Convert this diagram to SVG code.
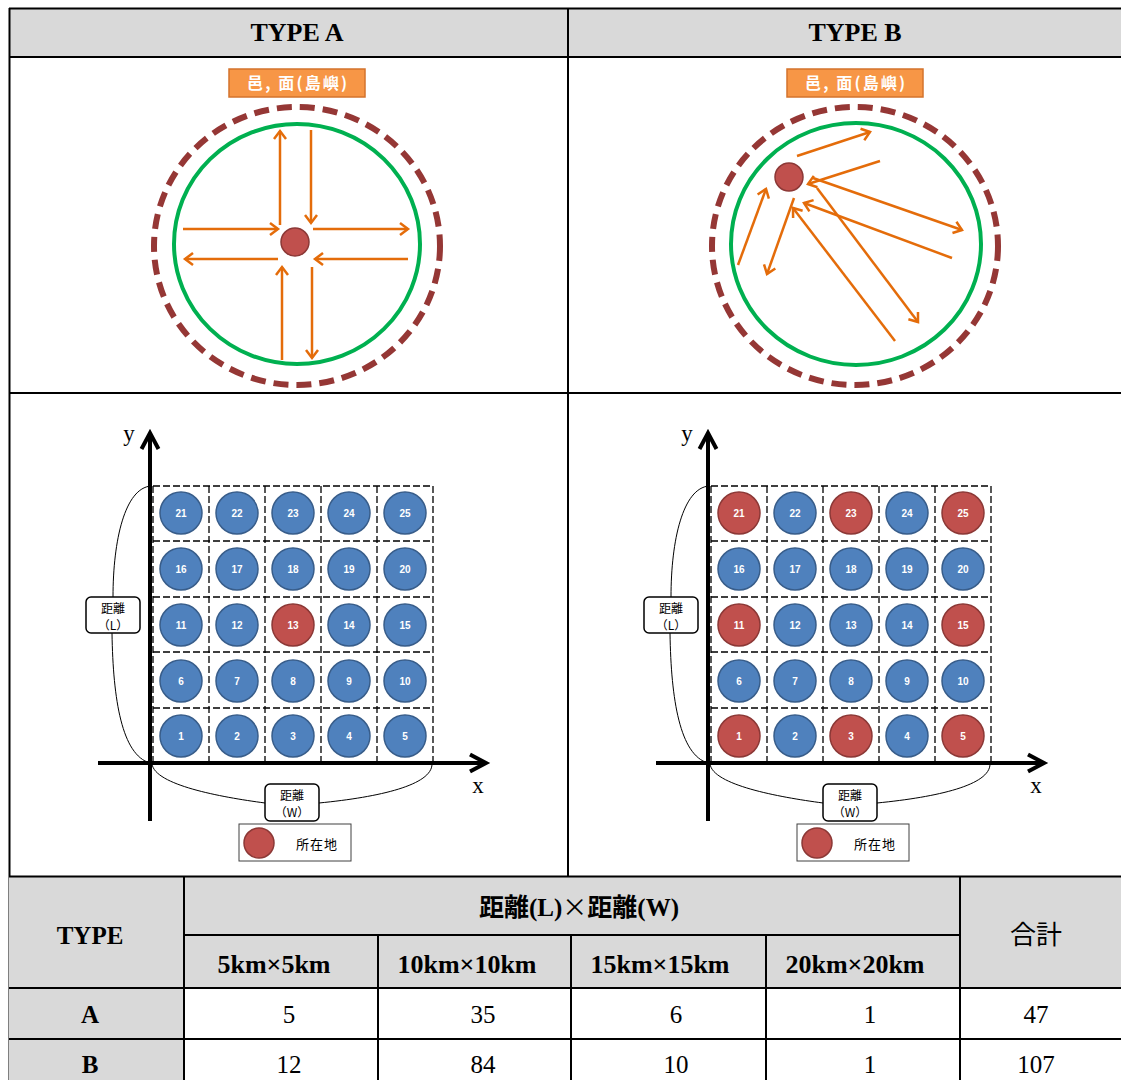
<svg xmlns="http://www.w3.org/2000/svg" width="1121" height="1080" viewBox="0 0 1121 1080">
<defs>
<style>
.hdr{fill:#d9d9d9}
.ln{stroke:#000;stroke-width:2;fill:none}
.tserif{font-family:"Liberation Serif","Times New Roman",serif;fill:#000;text-anchor:middle}
.b{font-weight:bold}
.cjk{font-family:"Liberation Serif","Noto Sans CJK KR",serif;text-anchor:middle;fill:#000}
.lbl{fill:#f79646;stroke:#d4732c;stroke-width:1.5}
.lbltxt{font-family:"Noto Sans CJK KR","Noto Sans",sans-serif;font-size:16px;font-weight:bold;fill:#fff;text-anchor:middle}
.green{fill:none;stroke:#00b050;stroke-width:4}
.dash{fill:none;stroke:#953735;stroke-width:6;stroke-dasharray:15 8}
.dot{fill:#c0504d;stroke:#8c3836;stroke-width:1.5}
.arr{stroke:#e46c0a;stroke-width:2.5;fill:none;marker-end:url(#ah)}
.grid{stroke:#000;stroke-width:1.3;stroke-dasharray:7 3;fill:none}
.axis{stroke:#000;stroke-width:4;fill:none;stroke-linejoin:miter}
.blue{fill:#4f81bd;stroke:#385d8a;stroke-width:1.5}
.red{fill:#c0504d;stroke:#8c3836;stroke-width:1.5}
.num{font-family:"Liberation Sans",Arial,sans-serif;font-size:10px;font-weight:bold;fill:#fff;text-anchor:middle}
.curve{stroke:#000;stroke-width:1;fill:none}
.box{fill:#fff;stroke:#000;stroke-width:1.5}
.small{font-family:"Noto Sans CJK KR","Noto Sans",sans-serif;font-size:12px;fill:#000;text-anchor:middle}
.legt{font-family:"Noto Sans CJK KR","Noto Sans",sans-serif;font-size:13px;fill:#000;text-anchor:middle;letter-spacing:1px}
.leg{fill:#fff;stroke:#404040;stroke-width:1}
.axlab{font-family:"Liberation Serif","Times New Roman",serif;font-size:23px;fill:#000;text-anchor:middle}
</style>
<marker id="ah" markerUnits="userSpaceOnUse" markerWidth="20" markerHeight="20" refX="10" refY="10" orient="auto" overflow="visible">
<path d="M2,4 L10,10 L2,16" fill="none" stroke="#e46c0a" stroke-width="2.5"/>
</marker>
</defs>

<rect width="1121" height="1080" fill="#fff"/>

<g id="frame">
<rect class="hdr" x="9" y="8" width="1112" height="49"/>
<line class="ln" x1="9" y1="8.5" x2="1121" y2="8.5" stroke-width="3"/>
<line class="ln" x1="9" y1="57" x2="1121" y2="57" stroke-width="2.5"/>
<line class="ln" x1="9.5" y1="8" x2="9.5" y2="1080" stroke-width="2.5"/>
<line class="ln" x1="568" y1="8" x2="568" y2="876"/>
<line class="ln" x1="9" y1="393" x2="1121" y2="393"/>
<text class="tserif b" x="297" y="41" font-size="26">TYPE A</text>
<text class="tserif b" x="855" y="41" font-size="26">TYPE B</text>
</g>

<g id="circleA">
<g id="labelA"><rect class="lbl" x="229" y="69" width="136" height="28"/><text class="lbltxt" x="297" y="89" textLength="100" lengthAdjust="spacing">邑, 面(島嶼)</text></g>
<ellipse class="dash" cx="297" cy="246" rx="143" ry="139"/>
<ellipse class="green" cx="297" cy="244" rx="123" ry="120"/>
<circle id="dotA" class="dot" cx="295" cy="242" r="14"/>
</g>

<g id="circleB">
<g id="labelB"><rect class="lbl" x="787" y="69" width="136" height="28"/><text class="lbltxt" x="855" y="89" textLength="100" lengthAdjust="spacing">邑, 面(島嶼)</text></g>
<ellipse class="dash" cx="855" cy="246" rx="143" ry="139"/>
<ellipse class="green" cx="856" cy="244" rx="125" ry="121"/>
<circle id="dotB" class="dot" cx="789" cy="177" r="14"/>
</g>

<g id="connectors">
<line class="arr" x1="280" y1="225" x2="280" y2="131"/>
<line class="arr" x1="311" y1="130" x2="311" y2="223"/>
<line class="arr" x1="183" y1="229" x2="278" y2="229"/>
<line class="arr" x1="313" y1="229" x2="408" y2="229"/>
<line class="arr" x1="278" y1="259" x2="185" y2="259"/>
<line class="arr" x1="408" y1="259" x2="315" y2="259"/>
<line class="arr" x1="282" y1="360" x2="282" y2="267"/>
<line class="arr" x1="312" y1="267" x2="312" y2="358"/>

<line class="arr" x1="797" y1="156" x2="870" y2="132"/>
<line class="arr" x1="880" y1="161" x2="808" y2="184"/>
<line class="arr" x1="813" y1="178" x2="962" y2="230"/>
<line class="arr" x1="952" y1="258" x2="804" y2="203"/>
<line class="arr" x1="895" y1="341" x2="793" y2="208"/>
<line class="arr" x1="817" y1="188" x2="918" y2="322"/>
<line class="arr" x1="738" y1="265" x2="766" y2="189"/>
<line class="arr" x1="794" y1="198" x2="767" y2="274"/>
</g>

<g id="gridA">
<path class="grid" d="M153,486 H433 M153,541 H433 M153,597 H433 M153,652 H433 M153,708 H433 M153,763 H433 M153,486 V763 M209,486 V763 M265,486 V763 M321,486 V763 M377,486 V763 M433,486 V763"/>
<path class="axis" d="M150,433 V821 M141.5,449 L150,433 L158.5,449"/>
<path class="axis" d="M98,763 H486 M470,754.5 L486,763 L470,771.5"/>
<text class="axlab" x="129" y="441">y</text>
<text class="axlab" x="478" y="793">x</text>
<path class="curve" d="M151,486 C125,488 113,540 113,597"/>
<path class="curve" d="M112,633 C113,700 122,755 150,763"/>
<path class="curve" d="M152,764 C155,785 220,797 265,803"/>
<path class="curve" d="M319,803 C380,797 432,785 432,764"/>
<g id="a-lenL"><rect class="box" x="86" y="597" width="54" height="36" rx="5"/><text class="small" x="113" y="613">距離</text><text class="small" x="113" y="629.5">（L）</text></g>
<g id="a-lenW"><rect class="box" x="265" y="784" width="54" height="37" rx="5"/><text class="small" x="292" y="800">距離</text><text class="small" x="292" y="816.5">（W）</text></g>
<g id="a-legend"><rect class="leg" x="239" y="824" width="112" height="37"/><circle class="red" cx="259" cy="843" r="15"/><text class="legt" x="317" y="849">所在地</text></g>
<g id="a21"><circle class="blue" cx="181" cy="513" r="21"/><text class="num" x="181" y="516.5">21</text></g>
<g id="a22"><circle class="blue" cx="237" cy="513" r="21"/><text class="num" x="237" y="516.5">22</text></g>
<g id="a23"><circle class="blue" cx="293" cy="513" r="21"/><text class="num" x="293" y="516.5">23</text></g>
<g id="a24"><circle class="blue" cx="349" cy="513" r="21"/><text class="num" x="349" y="516.5">24</text></g>
<g id="a25"><circle class="blue" cx="405" cy="513" r="21"/><text class="num" x="405" y="516.5">25</text></g>
<g id="a16"><circle class="blue" cx="181" cy="569" r="21"/><text class="num" x="181" y="572.5">16</text></g>
<g id="a17"><circle class="blue" cx="237" cy="569" r="21"/><text class="num" x="237" y="572.5">17</text></g>
<g id="a18"><circle class="blue" cx="293" cy="569" r="21"/><text class="num" x="293" y="572.5">18</text></g>
<g id="a19"><circle class="blue" cx="349" cy="569" r="21"/><text class="num" x="349" y="572.5">19</text></g>
<g id="a20"><circle class="blue" cx="405" cy="569" r="21"/><text class="num" x="405" y="572.5">20</text></g>
<g id="a11"><circle class="blue" cx="181" cy="625" r="21"/><text class="num" x="181" y="628.5">11</text></g>
<g id="a12"><circle class="blue" cx="237" cy="625" r="21"/><text class="num" x="237" y="628.5">12</text></g>
<g id="a13"><circle class="red" cx="293" cy="625" r="21"/><text class="num" x="293" y="628.5">13</text></g>
<g id="a14"><circle class="blue" cx="349" cy="625" r="21"/><text class="num" x="349" y="628.5">14</text></g>
<g id="a15"><circle class="blue" cx="405" cy="625" r="21"/><text class="num" x="405" y="628.5">15</text></g>
<g id="a6"><circle class="blue" cx="181" cy="681" r="21"/><text class="num" x="181" y="684.5">6</text></g>
<g id="a7"><circle class="blue" cx="237" cy="681" r="21"/><text class="num" x="237" y="684.5">7</text></g>
<g id="a8"><circle class="blue" cx="293" cy="681" r="21"/><text class="num" x="293" y="684.5">8</text></g>
<g id="a9"><circle class="blue" cx="349" cy="681" r="21"/><text class="num" x="349" y="684.5">9</text></g>
<g id="a10"><circle class="blue" cx="405" cy="681" r="21"/><text class="num" x="405" y="684.5">10</text></g>
<g id="a1"><circle class="blue" cx="181" cy="736" r="21"/><text class="num" x="181" y="739.5">1</text></g>
<g id="a2"><circle class="blue" cx="237" cy="736" r="21"/><text class="num" x="237" y="739.5">2</text></g>
<g id="a3"><circle class="blue" cx="293" cy="736" r="21"/><text class="num" x="293" y="739.5">3</text></g>
<g id="a4"><circle class="blue" cx="349" cy="736" r="21"/><text class="num" x="349" y="739.5">4</text></g>
<g id="a5"><circle class="blue" cx="405" cy="736" r="21"/><text class="num" x="405" y="739.5">5</text></g>
</g>

<g id="gridB" transform="translate(558,0)">
<path class="grid" d="M153,486 H433 M153,541 H433 M153,597 H433 M153,652 H433 M153,708 H433 M153,763 H433 M153,486 V763 M209,486 V763 M265,486 V763 M321,486 V763 M377,486 V763 M433,486 V763"/>
<path class="axis" d="M150,433 V821 M141.5,449 L150,433 L158.5,449"/>
<path class="axis" d="M98,763 H486 M470,754.5 L486,763 L470,771.5"/>
<text class="axlab" x="129" y="441">y</text>
<text class="axlab" x="478" y="793">x</text>
<path class="curve" d="M151,486 C125,488 113,540 113,597"/>
<path class="curve" d="M112,633 C113,700 122,755 150,763"/>
<path class="curve" d="M152,764 C155,785 220,797 265,803"/>
<path class="curve" d="M319,803 C380,797 432,785 432,764"/>
<g id="b-lenL"><rect class="box" x="86" y="597" width="54" height="36" rx="5"/><text class="small" x="113" y="613">距離</text><text class="small" x="113" y="629.5">（L）</text></g>
<g id="b-lenW"><rect class="box" x="265" y="784" width="54" height="37" rx="5"/><text class="small" x="292" y="800">距離</text><text class="small" x="292" y="816.5">（W）</text></g>
<g id="b-legend"><rect class="leg" x="239" y="824" width="112" height="37"/><circle class="red" cx="259" cy="843" r="15"/><text class="legt" x="317" y="849">所在地</text></g>
<g id="b21"><circle class="red" cx="181" cy="513" r="21"/><text class="num" x="181" y="516.5">21</text></g>
<g id="b22"><circle class="blue" cx="237" cy="513" r="21"/><text class="num" x="237" y="516.5">22</text></g>
<g id="b23"><circle class="red" cx="293" cy="513" r="21"/><text class="num" x="293" y="516.5">23</text></g>
<g id="b24"><circle class="blue" cx="349" cy="513" r="21"/><text class="num" x="349" y="516.5">24</text></g>
<g id="b25"><circle class="red" cx="405" cy="513" r="21"/><text class="num" x="405" y="516.5">25</text></g>
<g id="b16"><circle class="blue" cx="181" cy="569" r="21"/><text class="num" x="181" y="572.5">16</text></g>
<g id="b17"><circle class="blue" cx="237" cy="569" r="21"/><text class="num" x="237" y="572.5">17</text></g>
<g id="b18"><circle class="blue" cx="293" cy="569" r="21"/><text class="num" x="293" y="572.5">18</text></g>
<g id="b19"><circle class="blue" cx="349" cy="569" r="21"/><text class="num" x="349" y="572.5">19</text></g>
<g id="b20"><circle class="blue" cx="405" cy="569" r="21"/><text class="num" x="405" y="572.5">20</text></g>
<g id="b11"><circle class="red" cx="181" cy="625" r="21"/><text class="num" x="181" y="628.5">11</text></g>
<g id="b12"><circle class="blue" cx="237" cy="625" r="21"/><text class="num" x="237" y="628.5">12</text></g>
<g id="b13"><circle class="blue" cx="293" cy="625" r="21"/><text class="num" x="293" y="628.5">13</text></g>
<g id="b14"><circle class="blue" cx="349" cy="625" r="21"/><text class="num" x="349" y="628.5">14</text></g>
<g id="b15"><circle class="red" cx="405" cy="625" r="21"/><text class="num" x="405" y="628.5">15</text></g>
<g id="b6"><circle class="blue" cx="181" cy="681" r="21"/><text class="num" x="181" y="684.5">6</text></g>
<g id="b7"><circle class="blue" cx="237" cy="681" r="21"/><text class="num" x="237" y="684.5">7</text></g>
<g id="b8"><circle class="blue" cx="293" cy="681" r="21"/><text class="num" x="293" y="684.5">8</text></g>
<g id="b9"><circle class="blue" cx="349" cy="681" r="21"/><text class="num" x="349" y="684.5">9</text></g>
<g id="b10"><circle class="blue" cx="405" cy="681" r="21"/><text class="num" x="405" y="684.5">10</text></g>
<g id="b1"><circle class="red" cx="181" cy="736" r="21"/><text class="num" x="181" y="739.5">1</text></g>
<g id="b2"><circle class="blue" cx="237" cy="736" r="21"/><text class="num" x="237" y="739.5">2</text></g>
<g id="b3"><circle class="red" cx="293" cy="736" r="21"/><text class="num" x="293" y="739.5">3</text></g>
<g id="b4"><circle class="blue" cx="349" cy="736" r="21"/><text class="num" x="349" y="739.5">4</text></g>
<g id="b5"><circle class="red" cx="405" cy="736" r="21"/><text class="num" x="405" y="739.5">5</text></g>
</g>

<g id="table">
<rect class="hdr" x="9" y="877" width="1112" height="111"/>
<rect class="hdr" x="9" y="988" width="175" height="92"/>
<line class="ln" x1="9" y1="876.5" x2="1121" y2="876.5" stroke-width="3.5"/>
<line class="ln" x1="184" y1="935" x2="960" y2="935"/>
<line class="ln" x1="9" y1="988" x2="1121" y2="988"/>
<line class="ln" x1="9" y1="1039" x2="1121" y2="1039"/>
<line class="ln" x1="184" y1="877" x2="184" y2="1080"/>
<line class="ln" x1="378" y1="935" x2="378" y2="1080"/>
<line class="ln" x1="571" y1="935" x2="571" y2="1080"/>
<line class="ln" x1="766" y1="935" x2="766" y2="1080"/>
<line class="ln" x1="960" y1="877" x2="960" y2="1080"/>
<text class="tserif b" x="90" y="944" font-size="25">TYPE</text>
<text class="cjk b" x="579" y="916" font-size="25">距離(L)<tspan font-family="Noto Sans CJK KR, sans-serif" font-weight="normal">×</tspan>距離(W)</text>
<text class="cjk" x="1036" y="944" font-size="26">合計</text>
<text class="tserif b" x="274" y="973" font-size="26">5km×5km</text>
<text class="tserif b" x="467" y="973" font-size="26">10km×10km</text>
<text class="tserif b" x="660" y="973" font-size="26">15km×15km</text>
<text class="tserif b" x="855" y="973" font-size="26">20km×20km</text>
<text class="tserif b" x="90" y="1023" font-size="25">A</text>
<text class="tserif" x="289" y="1023" font-size="25">5</text>
<text class="tserif" x="483" y="1023" font-size="25">35</text>
<text class="tserif" x="676" y="1023" font-size="25">6</text>
<text class="tserif" x="870" y="1023" font-size="25">1</text>
<text class="tserif" x="1036" y="1023" font-size="25">47</text>
<text class="tserif b" x="90" y="1073" font-size="25">B</text>
<text class="tserif" x="289" y="1073" font-size="25">12</text>
<text class="tserif" x="483" y="1073" font-size="25">84</text>
<text class="tserif" x="676" y="1073" font-size="25">10</text>
<text class="tserif" x="870" y="1073" font-size="25">1</text>
<text class="tserif" x="1036" y="1073" font-size="25">107</text>
</g>
</svg>
